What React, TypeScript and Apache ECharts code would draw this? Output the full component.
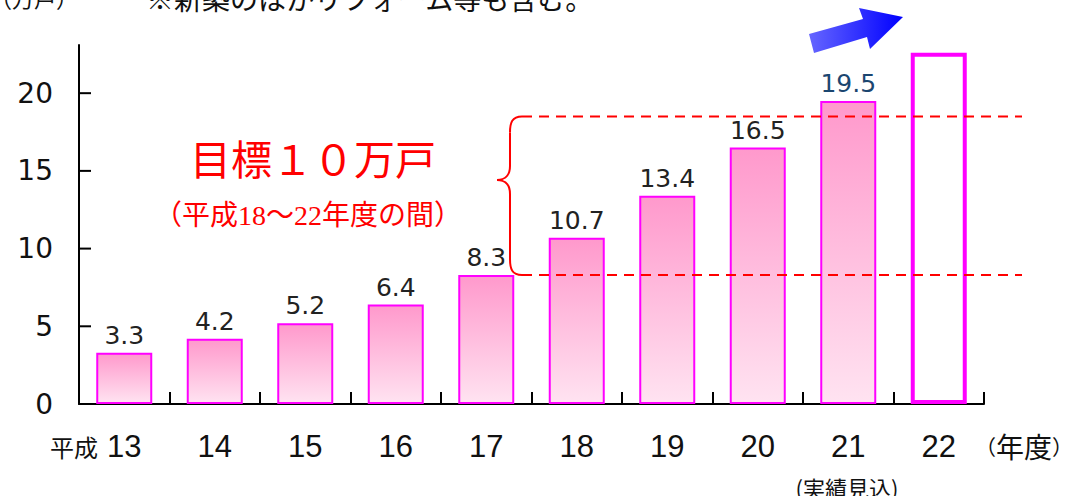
import React, { useEffect, useRef } from "react";
import * as echarts from "echarts";

const categories = ["13", "14", "15", "16", "17", "18", "19", "20", "21", "22"];
const values = [3.3, 4.2, 5.2, 6.4, 8.3, 10.7, 13.4, 16.5, 19.5, 22.6];
const yMax = 23.1;
const yInterval = 5;
const yTickValues = [5, 10, 15, 20];
const targetLow = 8.3;
const targetHigh = 18.5;
const estimateIndex = 8; // 21 (実績見込)
const futureIndex = 9; // 22

const GRID = { left: 79, right: 89, top: 45, bottom: 92 };
const NUM_FONT = "'DejaVu Sans', 'Noto Sans CJK JP', sans-serif";
const JP_FONT = "'Noto Sans CJK JP', sans-serif";

export default function App() {
  const ref = useRef<HTMLDivElement>(null);

  useEffect(() => {
    if (!ref.current) return;
    const chart = echarts.init(ref.current, null, { renderer: "svg" });

    const data = values.map((v, i) => {
      if (i === futureIndex) {
        return {
          value: v,
          itemStyle: { color: "rgba(255,255,255,0)", borderColor: "#FF00FF", borderWidth: 4 },
          label: { show: false },
        };
      }
      if (i === estimateIndex) {
        return { value: v, label: { color: "#1B4670" } };
      }
      return v;
    });

    const tickStyle = { color: "#000", width: 2, opacity: 1 };

    chart.setOption({
      animation: false,
      grid: { ...GRID, outerBoundsMode: "none" },
      xAxis: {
        type: "category",
        data: categories,
        boundaryGap: true,
        axisLine: { show: true, lineStyle: { color: "#000", width: 2 } },
        axisTick: { show: true, inside: true, length: 12, interval: 0, alignWithLabel: false, lineStyle: tickStyle },
        axisLabel: {
          margin: 27,
          fontSize: 31,
          color: "#111",
          fontFamily: "'Liberation Sans Narrow', 'Liberation Sans', Arial, sans-serif",
        },
      },
      yAxis: {
        type: "value",
        min: 0,
        max: yMax,
        interval: yInterval,
        splitLine: { show: false },
        axisLine: { show: true, lineStyle: { color: "#000", width: 2 } },
        axisTick: { show: false },
        axisLabel: {
          margin: 26,
          fontSize: 28,
          color: "#111",
          fontFamily: NUM_FONT,
          showMaxLabel: false,
          formatter: (v: number) => (v % yInterval === 0 ? String(v) : ""),
        },
      },
      series: [
        {
          type: "bar",
          data,
          barWidth: 56,
          z: 1,
          itemStyle: {
            color: new echarts.graphic.LinearGradient(0, 0, 0, 1, [
              { offset: 0, color: "#FF99CC" },
              { offset: 1, color: "#FFE3F1" },
            ]),
            borderColor: "#FF00FF",
            borderWidth: 2,
          },
          label: {
            show: true,
            position: "top",
            distance: 5,
            fontSize: 25,
            color: "#222",
            fontFamily: NUM_FONT,
          },
        },
      ],
    });

    const yPx = (v: number) => chart.convertToPixel({ yAxisIndex: 0 }, v) as number;
    const yHi = yPx(targetHigh);
    const yLo = yPx(targetLow);
    const tipY = yHi + 0.4 * (yLo - yHi);
    const xEnd = 522;
    const xMid = 510;
    const xTip = 497;
    const xLineEnd = 1022;
    const red = "#FF0000";
    const braceStyle = { stroke: red, lineWidth: 2, fill: null };

    // y-axis ticks pointing inward (right of the axis line)
    const yTicks = yTickValues.map((v) => {
      const py = yPx(v);
      return {
        type: "line",
        shape: { x1: GRID.left, y1: py, x2: GRID.left + 12, y2: py },
        style: { stroke: "#000", lineWidth: 2 },
        z: 20,
      };
    });

    chart.setOption({
      graphic: [
        ...yTicks,
        // top note (cut off by the page edge)
        {
          type: "text",
          x: -10,
          y: -3,
          style: { text: "（万戸）", fontSize: 22, fill: "#111", fontFamily: JP_FONT, textVerticalAlign: "middle" },
        },
        {
          type: "text",
          x: 146,
          y: -2,
          style: {
            text: "※新築のほかリフォーム等も含む。",
            fontSize: 28,
            fill: "#111",
            fontFamily: JP_FONT,
            textVerticalAlign: "middle",
          },
        },
        // arrow
        {
          type: "polygon",
          shape: {
            points: [
              [809, 34],
              [863, 19],
              [859, 8],
              [903, 17],
              [870, 49],
              [867, 37],
              [814, 53],
            ],
          },
          style: {
            fill: new echarts.graphic.LinearGradient(0, 0, 1, 0, [
              { offset: 0, color: "#6666FF" },
              { offset: 1, color: "#0000FF" },
            ]),
          },
        },
        // target text
        {
          type: "text",
          x: 313,
          y: 157,
          style: {
            text: "目標１０万戸",
            fontSize: 41,
            fill: red,
            fontFamily: JP_FONT,
            textAlign: "center",
            textVerticalAlign: "middle",
          },
        },
        {
          type: "text",
          x: 308,
          y: 215,
          style: {
            text: "（平成18〜22年度の間）",
            fontSize: 28,
            fill: red,
            fontFamily: "'Liberation Serif', 'Noto Sans CJK JP', serif",
            textAlign: "center",
            textVerticalAlign: "middle",
          },
        },
        // dashed target lines
        {
          type: "line",
          shape: { x1: xEnd, y1: yHi, x2: xLineEnd, y2: yHi },
          style: { stroke: red, lineWidth: 2, lineDash: [10, 7] },
          z: 10,
        },
        {
          type: "line",
          shape: { x1: xEnd, y1: yLo, x2: xLineEnd, y2: yLo },
          style: { stroke: red, lineWidth: 2, lineDash: [10, 7] },
          z: 10,
        },
        // brace
        {
          type: "bezierCurve",
          shape: { x1: xEnd, y1: yHi, cpx1: xMid + 2, cpy1: yHi, cpx2: xMid, cpy2: yHi + 6, x2: xMid, y2: yHi + 16 },
          style: braceStyle,
        },
        {
          type: "line",
          shape: { x1: xMid, y1: yHi + 16, x2: xMid, y2: tipY - 14 },
          style: braceStyle,
        },
        {
          type: "bezierCurve",
          shape: { x1: xMid, y1: tipY - 14, cpx1: xMid, cpy1: tipY - 2, cpx2: xTip + 5, cpy2: tipY, x2: xTip, y2: tipY },
          style: braceStyle,
        },
        {
          type: "bezierCurve",
          shape: { x1: xTip, y1: tipY, cpx1: xTip + 5, cpy1: tipY, cpx2: xMid, cpy2: tipY + 2, x2: xMid, y2: tipY + 14 },
          style: braceStyle,
        },
        {
          type: "line",
          shape: { x1: xMid, y1: tipY + 14, x2: xMid, y2: yLo - 16 },
          style: braceStyle,
        },
        {
          type: "bezierCurve",
          shape: { x1: xMid, y1: yLo - 16, cpx1: xMid, cpy1: yLo - 6, cpx2: xMid + 2, cpy2: yLo, x2: xEnd, y2: yLo },
          style: braceStyle,
        },
        // axis annotations
        {
          type: "text",
          x: 98,
          y: 446,
          style: {
            text: "平成",
            fontSize: 24,
            fill: "#111",
            fontFamily: JP_FONT,
            textAlign: "right",
            textVerticalAlign: "middle",
          },
        },
        {
          type: "text",
          x: 975,
          y: 446,
          style: {
            text: "{p|（}{t|年度}{p|）}",
            rich: {
              p: { fontSize: 21, fill: "#111", fontFamily: JP_FONT },
              t: { fontSize: 28, fill: "#111", fontFamily: JP_FONT },
            },
            textVerticalAlign: "middle",
          },
        },
        {
          type: "text",
          x: 847,
          y: 487,
          style: {
            text: "(実績見込)",
            fontSize: 22,
            fill: "#111",
            fontFamily: JP_FONT,
            textAlign: "center",
            textVerticalAlign: "middle",
          },
        },
      ],
    });

    return () => chart.dispose();
  }, []);

  return (
    <div
      ref={ref}
      style={{ position: "absolute", left: 0, top: 0, width: 1073, height: 496, background: "#fff" }}
    />
  );
}
